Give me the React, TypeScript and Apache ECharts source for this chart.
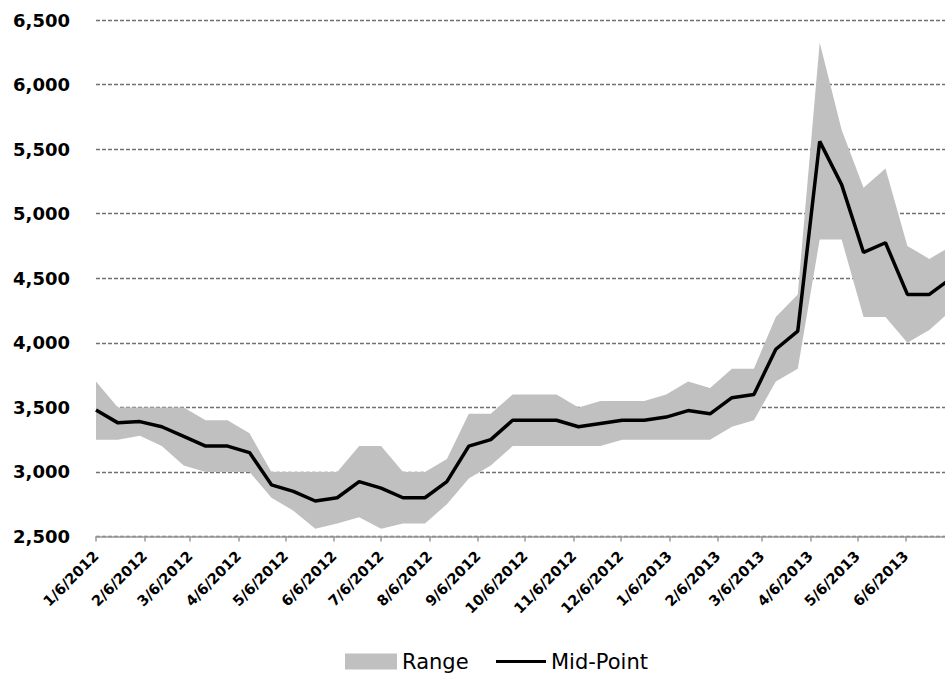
import React, { useEffect, useRef } from "react";
import * as echarts from "echarts";

const dates = [
  "2012-01-06", "2012-01-20", "2012-02-03", "2012-02-17", "2012-03-02", "2012-03-16",
  "2012-03-30", "2012-04-13", "2012-04-27", "2012-05-11", "2012-05-25", "2012-06-08",
  "2012-06-22", "2012-07-06", "2012-07-20", "2012-08-03", "2012-08-17", "2012-08-31",
  "2012-09-14", "2012-09-28", "2012-10-12", "2012-10-26", "2012-11-09", "2012-11-23",
  "2012-12-07", "2012-12-21", "2013-01-04", "2013-01-18", "2013-02-01", "2013-02-15",
  "2013-03-01", "2013-03-15", "2013-03-29", "2013-04-12", "2013-04-26", "2013-05-10",
  "2013-05-24", "2013-06-07", "2013-06-21", "2013-07-05",
];

const rangeLow = [
  3250, 3250, 3280, 3200, 3050, 3000, 3000, 3000, 2800, 2700,
  2560, 2600, 2650, 2560, 2600, 2600, 2750, 2950, 3050, 3200,
  3200, 3200, 3200, 3200, 3250, 3250, 3250, 3250, 3250, 3350,
  3400, 3700, 3800, 4800, 4800, 4200, 4200, 4000, 4100, 4250,
];

const rangeHigh = [
  3700, 3500, 3500, 3500, 3500, 3400, 3400, 3300, 3000, 3000,
  3000, 3000, 3200, 3200, 3000, 3000, 3100, 3450, 3450, 3600,
  3600, 3600, 3500, 3550, 3550, 3550, 3600, 3700, 3650, 3800,
  3800, 4200, 4375, 6325, 5650, 5200, 5350, 4750, 4650, 4750,
];

const midPoint = [
  3480, 3380, 3390, 3350, 3275, 3200, 3200, 3150, 2900, 2850,
  2775, 2800, 2925, 2875, 2800, 2800, 2925, 3200, 3250, 3400,
  3400, 3400, 3350, 3375, 3400, 3400, 3425, 3475, 3450, 3575,
  3600, 3950, 4090, 5560, 5225, 4700, 4775, 4375, 4375, 4500,
];

const tickLabels = [
  "1/6/2012", "2/6/2012", "3/6/2012", "4/6/2012", "5/6/2012", "6/6/2012",
  "7/6/2012", "8/6/2012", "9/6/2012", "10/6/2012", "11/6/2012", "12/6/2012",
  "1/6/2013", "2/6/2013", "3/6/2013", "4/6/2013", "5/6/2013", "6/6/2013",
];

const DAY = 86400000;

function parseISO(s: string): number {
  const [y, m, d] = s.split("-").map(Number);
  return Date.UTC(y, m - 1, d);
}
function parseUS(s: string): number {
  const [m, d, y] = s.split("/").map(Number);
  return Date.UTC(y, m - 1, d);
}
function fmtUS(v: number): string {
  const dt = new Date(v);
  return `${dt.getUTCMonth() + 1}/${dt.getUTCDate()}/${dt.getUTCFullYear()}`;
}
function fmtNum(v: number): string {
  return String(Math.round(v)).replace(/\B(?=(\d{3})+(?!\d))/g, ",");
}

export default function App() {
  const ref = useRef<HTMLDivElement>(null);

  useEffect(() => {
    if (!ref.current) return;
    const chart = echarts.init(ref.current, undefined, { renderer: "svg" });
    const times = dates.map(parseISO);
    const tickValues = tickLabels.map(parseUS);
    const xMin = tickValues[0];
    const xMax = xMin + 542 * DAY;

    const legendText = { fontFamily: "DejaVu Sans", fontSize: 21, color: "#000" };

    chart.setOption({
      animation: false,
      backgroundColor: "#ffffff",
      grid: { left: 96, right: 0, top: 20, bottom: 145.5, containLabel: false },
      legend: [
        {
          left: 340,
          top: 646,
          itemWidth: 52,
          itemHeight: 16,
          itemGap: 0,
          textStyle: legendText,
          data: [{ name: "Range", icon: "rect" }],
        },
        {
          left: 491,
          top: 646,
          itemWidth: 50,
          itemHeight: 3,
          textStyle: legendText,
          data: [{ name: "Mid-Point", icon: "rect" }],
        },
      ],
      xAxis: {
        type: "value",
        min: xMin,
        max: xMax,
        axisLine: { show: true, lineStyle: { color: "#9a9a9a", width: 1.5 } },
        axisTick: {
          show: true,
          customValues: tickValues,
          length: 5,
          lineStyle: { color: "#9a9a9a", width: 1.5 },
        },
        axisLabel: {
          customValues: tickValues,
          rotate: 45,
          margin: 17,
          fontFamily: "DejaVu Sans",
          fontWeight: "bold",
          fontSize: 14.5,
          color: "#000",
          formatter: (v: number) => fmtUS(v),
        },
        splitLine: { show: false },
      },
      yAxis: {
        type: "value",
        min: 2500,
        max: 6500,
        interval: 500,
        axisLine: { show: false },
        axisTick: { show: false },
        axisLabel: {
          margin: 26,
          fontFamily: "DejaVu Sans",
          fontWeight: "bold",
          fontSize: 18,
          color: "#000",
          formatter: (v: number) => fmtNum(v),
        },
        splitLine: {
          show: true,
          lineStyle: { color: "#707070", width: 1.3, type: [4, 2] },
        },
      },
      series: [
        {
          name: "Range",
          type: "custom",
          clip: true,
          silent: true,
          itemStyle: { color: "#c0c0c0" },
          encode: { x: 0, y: [1, 2] },
          data: times.map((t, i) => [t, rangeLow[i], rangeHigh[i]]),
          renderItem: (params: any, api: any) => {
            if (params.dataIndex !== 0) return null;
            const upper = times.map((t, i) => api.coord([t, rangeHigh[i]]));
            const lower = times.map((t, i) => api.coord([t, rangeLow[i]])).reverse();
            return {
              type: "polygon",
              shape: { points: upper.concat(lower) },
              style: { fill: "#c0c0c0", stroke: "none" },
            };
          },
          z: 1,
        },
        {
          name: "Mid-Point",
          type: "line",
          symbol: "none",
          lineStyle: { color: "#000000", width: 3.5 },
          itemStyle: { color: "#000000" },
          data: times.map((t, i) => [t, midPoint[i]]),
          z: 3,
        },
      ],
    });

    return () => chart.dispose();
  }, []);

  return (
    <div
      ref={ref}
      style={{ position: "absolute", left: 0, top: 0, width: 945, height: 682 }}
    />
  );
}
